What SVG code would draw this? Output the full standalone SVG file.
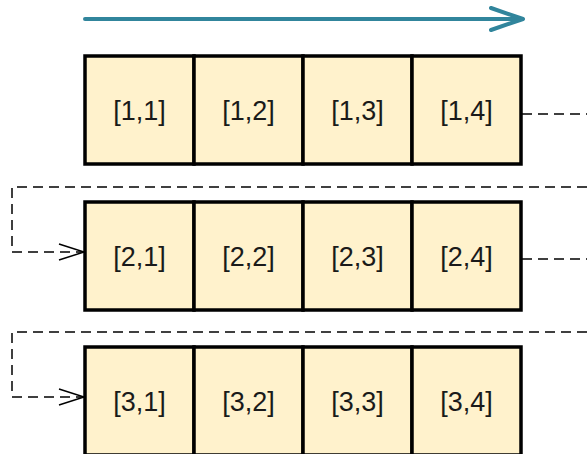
<svg xmlns="http://www.w3.org/2000/svg" width="587" height="454" viewBox="0 0 587 454">
<style>
.cell{fill:#FFF2CC;stroke:#000;stroke-width:3.5}
.t{font-family:"Liberation Sans",Arial,sans-serif;font-size:27px;fill:#1a1a1a;text-anchor:middle}
.d{fill:none;stroke:#000;stroke-width:1.5;stroke-dasharray:10,6}
.ah{fill:none;stroke:#000;stroke-width:1.5}
</style>
<rect width="587" height="454" fill="#fff"/>
<g id="direction">
<line x1="85" y1="19" x2="522" y2="19" stroke="#31859C" stroke-width="4" stroke-linecap="round"/>
<polyline points="491,8 523,19 491,30" fill="none" stroke="#31859C" stroke-width="4" stroke-linecap="round" stroke-linejoin="round"/>
</g>
<g id="connectors">
<line class="d" x1="522" y1="114" x2="587" y2="114"/>
<polyline class="d" points="587,187 12,187 12,252 84,252"/>
<polyline class="ah" points="59,244 84,252 59,260"/>
<line class="d" x1="522" y1="259" x2="587" y2="259"/>
<polyline class="d" points="587,332 12,332 12,397 84,397"/>
<polyline class="ah" points="59,389 84,397 59,405"/>
</g>
<g id="r1c1"><rect class="cell" x="85" y="56" width="109" height="108"/><text class="t" x="139.5" y="120">[1,1]</text></g>
<g id="r1c2"><rect class="cell" x="194" y="56" width="109" height="108"/><text class="t" x="248.5" y="120">[1,2]</text></g>
<g id="r1c3"><rect class="cell" x="303" y="56" width="109" height="108"/><text class="t" x="357.5" y="120">[1,3]</text></g>
<g id="r1c4"><rect class="cell" x="412" y="56" width="109" height="108"/><text class="t" x="466.5" y="120">[1,4]</text></g>
<g id="r2c1"><rect class="cell" x="85" y="202" width="109" height="108"/><text class="t" x="139.5" y="266">[2,1]</text></g>
<g id="r2c2"><rect class="cell" x="194" y="202" width="109" height="108"/><text class="t" x="248.5" y="266">[2,2]</text></g>
<g id="r2c3"><rect class="cell" x="303" y="202" width="109" height="108"/><text class="t" x="357.5" y="266">[2,3]</text></g>
<g id="r2c4"><rect class="cell" x="412" y="202" width="109" height="108"/><text class="t" x="466.5" y="266">[2,4]</text></g>
<g id="r3c1"><rect class="cell" x="85" y="347" width="109" height="108"/><text class="t" x="139.5" y="411">[3,1]</text></g>
<g id="r3c2"><rect class="cell" x="194" y="347" width="109" height="108"/><text class="t" x="248.5" y="411">[3,2]</text></g>
<g id="r3c3"><rect class="cell" x="303" y="347" width="109" height="108"/><text class="t" x="357.5" y="411">[3,3]</text></g>
<g id="r3c4"><rect class="cell" x="412" y="347" width="109" height="108"/><text class="t" x="466.5" y="411">[3,4]</text></g>
</svg>
